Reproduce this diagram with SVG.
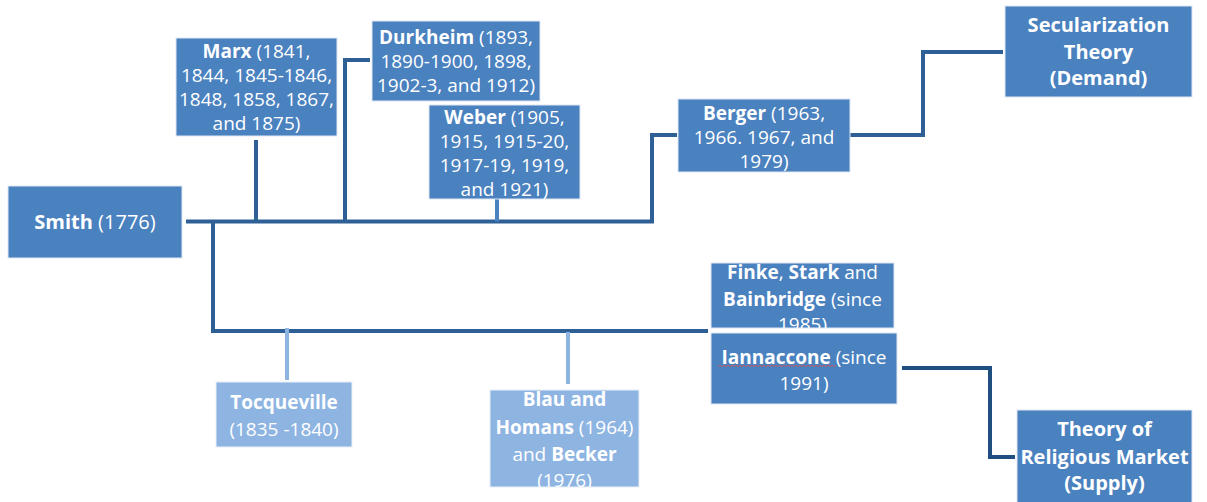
<svg xmlns="http://www.w3.org/2000/svg" width="1207" height="502" viewBox="0 0 1207 502">
<style>
.box{fill:#4a81bf;stroke:#dfe8f3;stroke-width:1}
.lbox{fill:#8eb4e2;stroke:#e8f0f9;stroke-width:1}
text{font-family:"Open Sans","Liberation Sans",sans-serif;font-size:19px;fill:#ffffff;text-anchor:middle}
.b{font-weight:bold}
.big{font-size:20px;font-weight:bold}
.c{fill:none;stroke:#2e6096;stroke-width:4}
.cl{fill:none;stroke:#8eb4e2;stroke-width:4}
.cm{fill:none;stroke:#4a81bf;stroke-width:4}
.cd{fill:none;stroke:#1f4e80;stroke-width:4}
</style>
<defs>
<clipPath id="clipBlau"><rect x="490" y="390" width="149" height="97"/></clipPath>
<clipPath id="clipFinke"><rect x="711" y="263" width="183" height="65"/></clipPath>
</defs>
<g id="connectors">
<path class="c" d="M186,221.5 H652 V135 H677"/>
<path class="c" d="M256,140 V221.5"/>
<path class="c" d="M345,221.5 V60 H370"/>
<path class="cm" d="M497,199 V221.5"/>
<path class="c" d="M850,135 H923 V52 H1003"/>
<path class="c" d="M213,221.5 V331 H708"/>
<path class="cl" d="M287,328 V380"/>
<path class="cl" d="M568,332 V384"/>
<path class="cd" d="M902,368 H990 V457 H1015"/>
</g>
<g id="smith">
<rect class="box" x="8" y="186" width="174" height="72"/>
<text x="95" y="229" style="font-size:20px"><tspan class="b">Smith</tspan> (1776)</text>
</g>
<g id="marx">
<rect class="box" x="176" y="38" width="161" height="98"/>
<text x="256.5" y="58"><tspan class="b">Marx</tspan> (1841,</text>
<text x="256.5" y="82">1844, 1845-1846,</text>
<text x="256.5" y="106">1848, 1858, 1867,</text>
<text x="256.5" y="130">and 1875)</text>
</g>
<g id="durkheim">
<rect class="box" x="372" y="21" width="168" height="80"/>
<text x="456" y="44"><tspan class="b">Durkheim</tspan> (1893,</text>
<text x="456" y="68">1890-1900, 1898,</text>
<text x="456" y="92">1902-3, and 1912)</text>
</g>
<g id="weber">
<rect class="box" x="429" y="105" width="151" height="94"/>
<text x="504.5" y="124"><tspan class="b">Weber</tspan> (1905,</text>
<text x="504.5" y="148">1915, 1915-20,</text>
<text x="504.5" y="172">1917-19, 1919,</text>
<text x="504.5" y="196">and 1921)</text>
</g>
<g id="berger">
<rect class="box" x="678" y="99" width="172" height="73"/>
<text x="764" y="120"><tspan class="b">Berger</tspan> (1963,</text>
<text x="764" y="144">1966. 1967, and</text>
<text x="764" y="168">1979)</text>
</g>
<g id="secularization">
<rect class="box" x="1005" y="6" width="187" height="91"/>
<text class="big" x="1098.5" y="32">Secularization</text>
<text class="big" x="1098.5" y="59">Theory</text>
<text class="big" x="1098.5" y="85">(Demand)</text>
</g>
<g id="tocqueville">
<rect class="lbox" x="216" y="382" width="136" height="65"/>
<text x="284" y="409" class="b">Tocqueville</text>
<text x="284" y="436">(1835 -1840)</text>
</g>
<g id="blau">
<rect class="lbox" x="490" y="390" width="149" height="97"/>
<g clip-path="url(#clipBlau)">
<text x="564.5" y="406" class="b">Blau and</text>
<text x="564.5" y="434"><tspan class="b">Homans</tspan> (1964)</text>
<text x="564.5" y="461">and <tspan class="b">Becker</tspan></text>
<text x="564.5" y="487">(1976)</text>
</g>
</g>
<g id="finke">
<rect class="box" x="711" y="263" width="183" height="65"/>
<g clip-path="url(#clipFinke)">
<text x="802.5" y="279"><tspan class="b">Finke</tspan>, <tspan class="b">Stark</tspan> and</text>
<text x="802.5" y="306"><tspan class="b">Bainbridge</tspan> (since</text>
<text x="802.5" y="331">1985)</text>
</g>
</g>
<g id="iannaccone">
<rect class="box" x="711" y="333" width="186" height="71"/>
<text x="804" y="364"><tspan class="b">Iannaccone</tspan> (since</text>
<text x="804" y="390">1991)</text>
<path d="M718,366.5 l2,-1.2 l2,1.2 l2,-1.2 l2,1.2 l2,-1.2 l2,1.2 l2,-1.2 l2,1.2 l2,-1.2 l2,1.2 l2,-1.2 l2,1.2 l2,-1.2 l2,1.2 l2,-1.2 l2,1.2 l2,-1.2 l2,1.2 l2,-1.2 l2,1.2 l2,-1.2 l2,1.2 l2,-1.2 l2,1.2 l2,-1.2 l2,1.2 l2,-1.2 l2,1.2 l2,-1.2 l2,1.2 l2,-1.2 l2,1.2 l2,-1.2 l2,1.2 l2,-1.2 l2,1.2 l2,-1.2 l2,1.2 l2,-1.2 l2,1.2 l2,-1.2 l2,1.2 l2,-1.2 l2,1.2 l2,-1.2 l2,1.2 l2,-1.2 l2,1.2 l2,-1.2 l2,1.2 l2,-1.2 l2,1.2 l2,-1.2 l2,1.2 l2,-1.2 l2,1.2 l2,-1.2 l2,1.2 l2,-1.2" fill="none" stroke="#d9534f" stroke-width="0.8"/>
</g>
<g id="religious-market">
<rect class="box" x="1017" y="410" width="175" height="95"/>
<text class="big" x="1104.5" y="436">Theory of</text>
<text class="big" x="1104.5" y="464">Religious Market</text>
<text class="big" x="1104.5" y="490">(Supply)</text>
</g>
</svg>
